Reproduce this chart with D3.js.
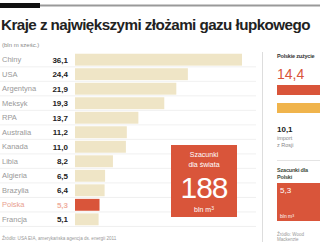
<!DOCTYPE html>
<html>
<head>
<meta charset="utf-8">
<script src="https://cdn.jsdelivr.net/npm/d3@7"></script>
<style>
  body { margin: 0; background: #fff; }
  svg { display: block; font-family: "Liberation Sans", Arial, sans-serif; }
</style>
</head>
<body>
<div id="graph"></div>
<script>
var w = 320, h = 246

var countries = ['Chiny', 'USA', 'Argentyna', 'Meksyk', 'RPA', 'Australia', 'Kanada', 'Libia', 'Algieria', 'Brazylia', 'Polska', 'Francja']
var values = [36.1, 24.4, 21.9, 19.3, 13.7, 11.2, 11.0, 8.2, 6.5, 6.4, 5.3, 5.1]
var worldTotal = 188
var polandUse = [14.4, 10.1]
var polandEstimate = 5.3

var fmt = function(v){ return d3.format('.1f')(v).replace('.', ',') }

var svg = d3.select('#graph').append('svg')
    .attr('width', w).attr('height', h)

// top rule
svg.append('line').attr('x1', 0).attr('x2', w).attr('y1', 5.5).attr('y2', 5.5)
    .style('stroke', '#999').style('stroke-width', 2)
svg.append('rect').attr('x', 0).attr('y', 3).attr('width', 40).attr('height', 5).style('fill', '#111')

svg.append('text').attr('x', 1).attr('y', 30)
    .style('font-size', '15.2px').style('font-weight', 'bold').style('fill', '#222')
    .style('letter-spacing', '-0.55px')
    .text('Kraje z największymi złożami gazu łupkowego')

svg.append('text').attr('x', 2).attr('y', 47)
    .style('font-size', '6px').style('fill', '#888')
    .text('(bln m sześc.)')

var y = d3.scaleBand().domain(countries).range([53, 226]).paddingInner(0.18).paddingOuter(0.05)
var x = d3.scaleLinear().domain([0, 36.1]).range([75, 242])

var rows = svg.selectAll('g.row').data(countries).enter().append('g').attr('class', 'row')

rows.append('line')
    .attr('x1', 0).attr('x2', 256)
    .attr('y1', function(d){ return y(d) + y.bandwidth() + 1.2 })
    .attr('y2', function(d){ return y(d) + y.bandwidth() + 1.2 })
    .style('stroke', '#ececec').style('stroke-width', 0.8)

rows.append('rect')
    .attr('x', x(0))
    .attr('y', function(d){ return y(d) })
    .attr('height', y.bandwidth())
    .attr('width', function(d, i){ return x(values[i]) - x(0) })
    .style('fill', function(d){ return d == 'Polska' ? '#d9553a' : '#efe5c6' })

rows.append('text')
    .attr('x', 2)
    .attr('y', function(d){ return y(d) + y.bandwidth() / 2 + 2.5 })
    .style('font-size', '7.5px')
    .style('fill', function(d){ return d == 'Polska' ? '#e8a090' : '#999' })
    .text(function(d){ return d })

rows.append('text')
    .attr('x', 68).attr('text-anchor', 'end')
    .attr('y', function(d){ return y(d) + y.bandwidth() / 2 + 3 })
    .style('font-size', '8px').style('font-weight', 'bold')
    .style('fill', function(d){ return d == 'Polska' ? '#f0b0a0' : '#222' })
    .text(function(d, i){ return fmt(values[i]) })

svg.append('text').attr('x', 2).attr('y', 240)
    .style('font-size', '4.6px').style('fill', '#999')
    .text('Źródło: USA EIA, amerykańska agencja ds. energii 2011')

// world box
var box = svg.append('g').attr('transform', 'translate(171,145)')
box.append('rect').attr('width', 66).attr('height', 72).style('fill', '#d9553a')
box.append('text').attr('x', 33).attr('y', 12).attr('text-anchor', 'middle')
    .style('font-size', '7px').style('fill', '#fff').text('Szacunki')
box.append('text').attr('x', 33).attr('y', 22).attr('text-anchor', 'middle')
    .style('font-size', '7px').style('fill', '#fff').text('dla świata')
box.append('text').attr('x', 33).attr('y', 53).attr('text-anchor', 'middle')
    .style('font-size', '30px').style('letter-spacing', '-1px').style('fill', '#fff').text(worldTotal)
box.append('text').attr('x', 33).attr('y', 67).attr('text-anchor', 'middle')
    .style('font-size', '7px').style('fill', '#fff').html('bln m<tspan dy="-2" font-size="5">3</tspan>')

// right panel
svg.append('line').attr('x1', 262.5).attr('x2', 262.5).attr('y1', 52).attr('y2', 242)
    .style('stroke', '#ddd')

var px = 277
var xr = d3.scaleLinear().domain([0, 14.4]).range([0, 70])

svg.append('text').attr('x', px).attr('y', 58)
    .style('font-size', '5.5px').style('font-weight', 'bold').style('fill', '#333')
    .style('letter-spacing', '-0.2px')
    .text('Polskie zużycie')
svg.append('text').attr('x', px).attr('y', 79)
    .style('font-size', '14px').style('fill', '#d9553a')
    .text(fmt(polandUse[0]))

svg.selectAll('rect.pl').data(polandUse).enter().append('rect')
    .attr('x', px)
    .attr('y', function(d, i){ return 85 + i * 18 })
    .attr('height', 10)
    .attr('width', function(d){ return xr(d) })
    .style('fill', function(d, i){ return i ? '#f0b44c' : '#d9553a' })

svg.append('text').attr('x', px).attr('y', 132)
    .style('font-size', '8px').style('font-weight', 'bold').style('fill', '#222')
    .text(fmt(polandUse[1]))
svg.append('text').attr('x', px).attr('y', 140)
    .style('font-size', '5.5px').style('fill', '#888').text('import')
svg.append('text').attr('x', px).attr('y', 147)
    .style('font-size', '5.5px').style('fill', '#888').text('z Rosji')

svg.append('line').attr('x1', px).attr('x2', w).attr('y1', 160.5).attr('y2', 160.5)
    .style('stroke', '#e4e4e4')

svg.append('text').attr('x', px).attr('y', 172)
    .style('font-size', '5.5px').style('font-weight', 'bold').style('fill', '#3d4a3a')
    .style('letter-spacing', '-0.2px')
    .text('Szacunki dla')
svg.append('text').attr('x', px).attr('y', 179)
    .style('font-size', '5.5px').style('font-weight', 'bold').style('fill', '#3d4a3a')
    .style('letter-spacing', '-0.2px')
    .text('Polski')

svg.append('rect').attr('x', px).attr('y', 183).attr('width', 50).attr('height', 38)
    .style('fill', '#d9553a')
svg.append('text').attr('x', px + 3).attr('y', 193)
    .style('font-size', '8px').style('fill', '#fff').text(fmt(polandEstimate))
svg.append('text').attr('x', px + 3).attr('y', 218)
    .style('font-size', '5px').style('fill', '#fff').html('bln m<tspan dy="-1.5" font-size="3.5">3</tspan>')

svg.append('text').attr('x', px).attr('y', 236)
    .style('font-size', '4.5px').style('fill', '#999')
    .text('Źródło: Wood')
svg.append('text').attr('x', px).attr('y', 241)
    .style('font-size', '4.5px').style('fill', '#999')
    .text('Mackenzie')
</script>
</body>
</html>
